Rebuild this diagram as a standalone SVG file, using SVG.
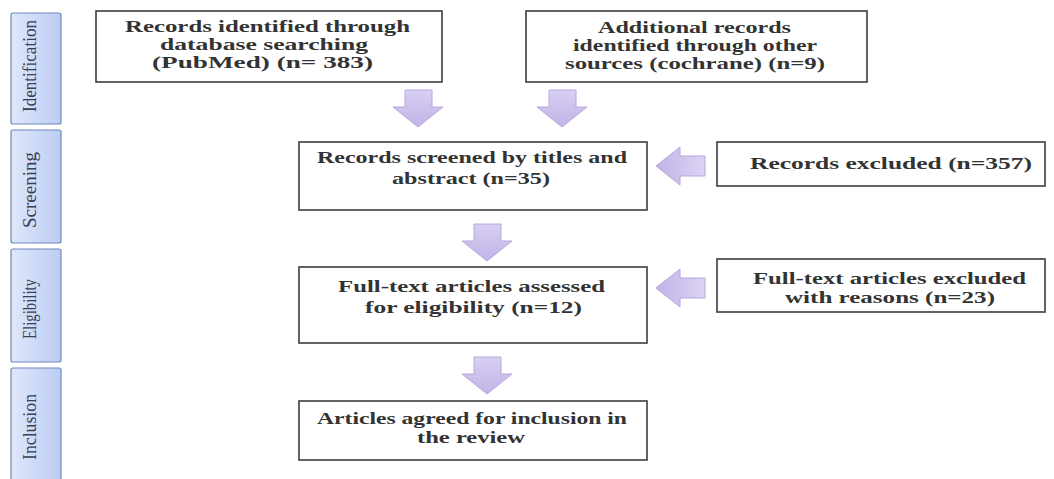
<svg xmlns="http://www.w3.org/2000/svg" width="1054" height="479" viewBox="0 0 1054 479">
<defs>
<linearGradient id="barG" x1="0" y1="0" x2="1" y2="0">
<stop offset="0" stop-color="#dfe7fb"/>
<stop offset="1" stop-color="#bccdf4"/>
</linearGradient>
<linearGradient id="arrG" x1="0" y1="0" x2="0" y2="1">
<stop offset="0" stop-color="#d9cff3"/>
<stop offset="1" stop-color="#c2b3e6"/>
</linearGradient>
<linearGradient id="arrH" x1="0" y1="0" x2="1" y2="0">
<stop offset="0" stop-color="#c2b3e6"/>
<stop offset="1" stop-color="#ddd3f5"/>
</linearGradient>
<path id="down" d="M12,0 H39 V17 H50 L25,37 L0,17 H12 Z"/>
<path id="left" d="M0,19 L24,0 V9 H49 V29 H24 V38 Z"/>
</defs>
<style>
.bar{fill:url(#barG);stroke:#7088bb;stroke-width:1.2}
.bt{font-family:"Liberation Serif",serif;font-size:19px;fill:#3a3f55;text-anchor:middle}
.box{fill:#ffffff;stroke:#3c3c3c;stroke-width:1.6}
.t{font-family:"Liberation Serif",serif;font-size:17px;font-weight:bold;fill:#333333}
.da{fill:url(#arrG);stroke:#b6a8dc;stroke-width:1}
.la{fill:url(#arrH);stroke:#b6a8dc;stroke-width:1}
</style>
<rect width="1054" height="479" fill="#ffffff"/>

<g id="phase-identification">
<rect class="bar" x="11" y="13" width="50" height="111" rx="2"/>
<text class="bt" transform="translate(36,66) rotate(-90)" textLength="92" lengthAdjust="spacingAndGlyphs">Identification</text>
</g>
<g id="phase-screening">
<rect class="bar" x="11" y="130" width="50" height="113" rx="2"/>
<text class="bt" transform="translate(36,190) rotate(-90)" textLength="76" lengthAdjust="spacingAndGlyphs">Screening</text>
</g>
<g id="phase-eligibility">
<rect class="bar" x="11" y="249" width="50" height="113" rx="2"/>
<text class="bt" transform="translate(36,309) rotate(-90)" textLength="60" lengthAdjust="spacingAndGlyphs">Eligibility</text>
</g>
<g id="phase-inclusion">
<rect class="bar" x="11" y="368" width="50" height="115" rx="2"/>
<text class="bt" transform="translate(36,427) rotate(-90)" textLength="66" lengthAdjust="spacingAndGlyphs">Inclusion</text>
</g>

<g id="identified-db">
<rect class="box" x="96" y="11" width="346" height="71"/>
<text class="t" x="125" y="32" textLength="285" lengthAdjust="spacingAndGlyphs">Records identified through</text>
<text class="t" x="160" y="50" textLength="208" lengthAdjust="spacingAndGlyphs">database searching</text>
<text class="t" x="152" y="68" textLength="221" lengthAdjust="spacingAndGlyphs">(PubMed) (n= 383)</text>
</g>
<g id="identified-other">
<rect class="box" x="526" y="11" width="341" height="71"/>
<text class="t" x="598" y="33" textLength="193" lengthAdjust="spacingAndGlyphs">Additional records</text>
<text class="t" x="573" y="51" textLength="244" lengthAdjust="spacingAndGlyphs">identified through other</text>
<text class="t" x="565" y="69" textLength="260" lengthAdjust="spacingAndGlyphs">sources (cochrane) (n=9)</text>
</g>
<g id="screened">
<rect class="box" x="299" y="142" width="348" height="68"/>
<text class="t" x="317" y="163" textLength="310" lengthAdjust="spacingAndGlyphs">Records screened by titles and</text>
<text class="t" x="392" y="184" textLength="158" lengthAdjust="spacingAndGlyphs">abstract (n=35)</text>
</g>
<g id="excluded">
<rect class="box" x="717" y="142" width="328" height="44"/>
<text class="t" x="750" y="169" textLength="282" lengthAdjust="spacingAndGlyphs">Records excluded (n=357)</text>
</g>
<g id="fulltext">
<rect class="box" x="299" y="267" width="348" height="76"/>
<text class="t" x="338" y="292" textLength="267" lengthAdjust="spacingAndGlyphs">Full-text articles assessed</text>
<text class="t" x="365" y="313" textLength="217" lengthAdjust="spacingAndGlyphs">for eligibility (n=12)</text>
</g>
<g id="fulltext-excluded">
<rect class="box" x="717" y="259" width="328" height="53"/>
<text class="t" x="753" y="284" textLength="273" lengthAdjust="spacingAndGlyphs">Full-text articles excluded</text>
<text class="t" x="785" y="303" textLength="210" lengthAdjust="spacingAndGlyphs">with reasons (n=23)</text>
</g>
<g id="included">
<rect class="box" x="299" y="401" width="348" height="59"/>
<text class="t" x="317" y="424" textLength="310" lengthAdjust="spacingAndGlyphs">Articles agreed for inclusion in</text>
<text class="t" x="417" y="443" textLength="108" lengthAdjust="spacingAndGlyphs">the review</text>
</g>

<g id="connectors">
<use href="#down" class="da" x="393" y="90"/>
<use href="#down" class="da" x="537" y="90"/>
<use href="#down" class="da" x="462" y="224"/>
<use href="#down" class="da" x="462" y="357"/>
<use href="#left" class="la" x="656" y="147"/>
<use href="#left" class="la" x="656" y="269"/>
</g>
</svg>
